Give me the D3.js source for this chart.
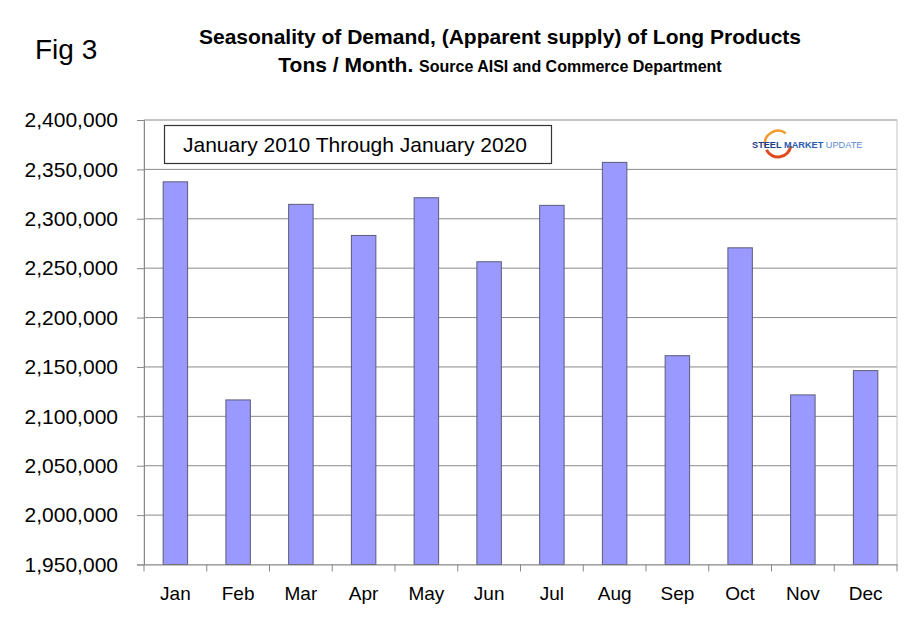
<!DOCTYPE html>
<html>
<head>
<meta charset="utf-8">
<script src="https://cdn.jsdelivr.net/npm/d3@7"></script>
<style>
  body { margin: 0; background: #fff; }
  svg text { font-family: "Liberation Sans", Arial, sans-serif; }
</style>
</head>
<body>
<svg width="910" height="622"></svg>
<script>
// data
var months = ["Jan","Feb","Mar","Apr","May","Jun","Jul","Aug","Sep","Oct","Nov","Dec"];
var tons = [2337400, 2116600, 2314600, 2283100, 2321300, 2256500, 2313600, 2357100, 2161400, 2270600, 2121700, 2146300];
var yTicks = [1950000, 2000000, 2050000, 2100000, 2150000, 2200000, 2250000, 2300000, 2350000, 2400000];

var svg = d3.select("svg");
var plotLeft = 144, plotRight = 897, plotTop = 120, plotBottom = 564.5;
var width = plotRight - plotLeft, height = plotBottom - plotTop;

var xScale = d3.scaleBand().domain(months).range([0, width]).paddingInner(0.61).paddingOuter(0.305);
var yScale = d3.scaleLinear().domain([1950000, 2400000]).range([height, 0]);

// headings
svg.append("text").attr("x", 35).attr("y", 59).attr("font-size", "28px").text("Fig 3");
svg.append("text").attr("x", 500).attr("y", 44).attr("text-anchor", "middle")
  .attr("font-size", "21px").attr("font-weight", "bold")
  .text("Seasonality of Demand, (Apparent supply) of Long Products");
var t2 = svg.append("text").attr("x", 500).attr("y", 72).attr("text-anchor", "middle")
  .attr("font-weight", "bold");
t2.append("tspan").attr("font-size", "21px").text("Tons / Month. ");
t2.append("tspan").attr("font-size", "16px").text("Source AISI and Commerce Department");

var g = svg.append("g").attr("transform", "translate(" + plotLeft + "," + plotTop + ")");

// gridlines
g.append("g").selectAll("line").data(yTicks).enter().append("line")
  .attr("x1", 0).attr("x2", width)
  .attr("y1", function(d){ return yScale(d); }).attr("y2", function(d){ return yScale(d); })
  .attr("stroke", "#8a8a8a").attr("stroke-width", 1);

// plot border
g.append("rect").attr("width", width).attr("height", height)
  .attr("fill", "none").attr("stroke", "#c4c4c4");

// bars
g.selectAll(".bar").data(tons).enter().append("rect")
  .attr("class", "bar")
  .attr("x", function(d, i){ return xScale(months[i]); })
  .attr("y", function(d){ return yScale(d); })
  .attr("width", xScale.bandwidth())
  .attr("height", function(d){ return height - yScale(d); })
  .attr("fill", "#9999ff").attr("stroke", "#5c5c7a").attr("stroke-width", 1);

// y axis
var yAxis = g.append("g").call(d3.axisLeft(yScale).tickValues(yTicks)
  .tickFormat(d3.format(",")).tickSize(7).tickPadding(19));
yAxis.select(".domain").attr("stroke", "#888");
yAxis.selectAll(".tick line").attr("stroke", "#888");
yAxis.selectAll("text").attr("font-size", "21px").attr("fill", "#000")
  .attr("font-family", "Liberation Sans, Arial, sans-serif");

// x axis: labels under bars, ticks between categories
var xAxis = g.append("g").attr("transform", "translate(0," + height + ")")
  .call(d3.axisBottom(xScale).tickSize(0).tickPadding(22));
xAxis.select(".domain").attr("stroke", "#888");
xAxis.selectAll("text").attr("font-size", "19px").attr("fill", "#000")
  .attr("font-family", "Liberation Sans, Arial, sans-serif");
var step = xScale.step();
g.append("g").selectAll("line").data(d3.range(months.length + 1)).enter().append("line")
  .attr("x1", function(i){ return i * step; }).attr("x2", function(i){ return i * step; })
  .attr("y1", height).attr("y2", height + 7)
  .attr("stroke", "#888");

// date range box
svg.append("rect").attr("x", 164.5).attr("y", 125.5).attr("width", 387).attr("height", 38)
  .attr("fill", "#fff").attr("stroke", "#333").attr("stroke-width", 1.2);
svg.append("text").attr("x", 183).attr("y", 152).attr("font-size", "21px")
  .text("January 2010 Through January 2020");

// logo
var logo = svg.append("g");
var arcTop = d3.arc().innerRadius(12).outerRadius(14.5).startAngle(-0.55 * Math.PI).endAngle(0.2 * Math.PI);
var arcBot = d3.arc().innerRadius(11.5).outerRadius(14.5).startAngle(0.55 * Math.PI).endAngle(1.35 * Math.PI);
logo.append("path").attr("d", arcTop()).attr("transform", "translate(778,144)").attr("fill", "#f39a2a");
logo.append("path").attr("d", arcBot()).attr("transform", "translate(778,144)").attr("fill", "#e04a1a");
var lt = logo.append("text").attr("x", 752).attr("y", 148).attr("font-size", "9.2px").attr("font-weight", "bold");
lt.append("tspan").attr("fill", "#1f3c88").text("STEEL ");
lt.append("tspan").attr("fill", "#2a5db0").text("MARKET ");
lt.append("tspan").attr("fill", "#5a8ad0").attr("font-weight", "normal").text("UPDATE");
</script>
</body>
</html>
